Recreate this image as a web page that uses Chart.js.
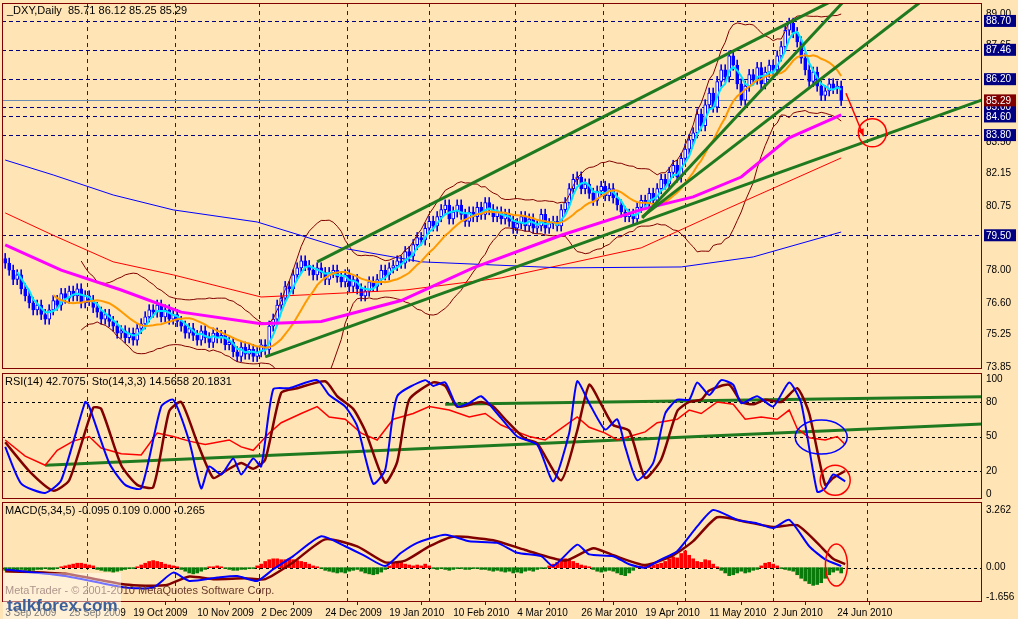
<!DOCTYPE html>
<html><head><meta charset="utf-8">
<script src="https://cdn.jsdelivr.net/npm/chart.js@4.4.1/dist/chart.umd.min.js"></script>
<style>
html,body{margin:0;padding:0;background:#FFE4B5;width:1018px;height:619px;overflow:hidden}
canvas{position:absolute;left:0}
</style></head><body>
<canvas id="cMain" style="top:0"></canvas>
<canvas id="cRsi" style="top:372px"></canvas>
<canvas id="cMacd" style="top:501px"></canvas>
<script>
// ---------- DATA ----------
const closes=[78.3,78.0,77.6,77.8,77.2,76.9,
76.6,76.3,76.5,76.1,75.9,
76.3,76.7,76.5,77.0,76.8,77.1,76.9,77.2,76.6,76.9,76.7,
76.4,76.2,75.9,76.1,75.8,75.6,75.3,75.4,
75.1,75.3,75.0,75.5,75.7,76.0,76.3,
76.2,76.5,76.0,76.3,75.9,76.1,75.8,
75.6,75.3,75.5,75.2,75.0,75.4,75.1,74.9,75.3,75.1,75.2,74.8,74.9,
74.5,74.3,74.7,74.4,74.6,74.3,74.5,74.8,74.6,
75.6,75.9,76.5,76.8,77.3,77.2,77.8,78.1,78.4,78.2,78.0,77.8,78.1,
77.9,77.6,77.9,78.0,77.7,77.5,77.8,77.3,77.6,77.2,76.9,77.1,77.5,77.3,77.6,78.0,77.8,78.1,
78.2,78.4,78.3,78.8,78.6,79.1,79.4,79.3,79.8,80.1,79.9,80.3,80.6,80.8,
80.2,80.5,80.8,80.4,80.1,80.5,80.3,80.7,80.4,80.9,80.6,80.3,80.5,80.2,80.4,80.1,79.8,80.0,80.3,79.9,80.2,79.8,79.9,80.4,79.8,80.0,80.1,79.9,
80.6,80.9,81.5,81.9,82.0,81.5,81.7,81.3,81.0,
81.4,81.6,81.2,81.5,81.1,80.8,80.5,80.3,80.4,80.2,
80.7,81.0,80.9,81.3,81.0,81.5,81.9,81.7,82.2,82.5,82.0,82.8,83.2,83.6,
83.9,84.7,84.2,85.1,85.6,85.0,86.1,86.6,86.3,
87.2,86.8,86.0,85.3,85.9,86.4,
86.2,86.7,86.0,86.5,86.8,86.6,87.2,87.6,88.3,88.6,
88.2,87.8,87.1,86.6,86.1,86.5,85.9,85.5,85.7,86.0,85.8,85.9,85.29];
const firstOpen=78.5;
const ma200Pts=[[0,82.73],[12,82.09],[27,81.23],[42,80.59],[63,80.07],[84,78.96],[104,78.36],[139,78.1],[169,78.14],[187,78.57],[209,79.64]];
const ma100Pts=[[0,80.46],[12,79.5],[27,78.36],[42,77.8],[64,76.85],[100,77.15],[124,77.67],[159,78.96],[180,80.6],[209,82.82]];
const ma50Pts=[[0,79.09],[14,78.0],[29,77.15],[44,76.2],[64,75.7],[79,75.8],[99,76.7],[117,78.1],[139,79.5],[159,80.6],[172,81.15],[184,82.0],[196,83.68],[209,84.67]];
const trendLines=[[[78,78.36],[206.25,89.52]],[[65,74.28],[244.25,85.31]],[[159.25,80.24],[209.25,89.47]],[[159.25,80.29],[228.5,89.47]]];
const levels=[88.70,87.46,86.20,85.00,84.60,83.80,79.50];
const lastPrice=85.29;
const priceTicks=[73.85,75.25,76.60,78.00,79.40,80.75,82.15,83.50,84.90,86.25,87.65,89.00];
const monthStarts=[20.5,42.5,63.5,85.5,106,127.5,149.5,170,192,215.5];
const dateTickIdx=[0,16,32,48,64,80,96,112,128,144,160,176,192,208];
const dateLabels=['3 Sep 2009','25 Sep 2009','19 Oct 2009','10 Nov 2009','2 Dec 2009','24 Dec 2009','19 Jan 2010','10 Feb 2010','4 Mar 2010','26 Mar 2010','19 Apr 2010','11 May 2010','2 Jun 2010','24 Jun 2010'];
const stochPts=[[0,41],[4,9],[10,1],[14,12],[20,80],[21,76],[26,27],[30,8],[34,5],[39,76],[42,82],[46,46],[49,5],[51,24],[54,17],[57,31],[59,17],[62,31],[64,24],[67,91],[71,92],[78,99],[81,86],[85,76],[88,59],[92,9],[95,21],[98,85],[105,99],[107,94],[110,97],[113,76],[116,79],[119,85],[123,70],[128,50],[133,43],[137,11],[141,53],[143,98],[146,79],[150,56],[153,65],[155,41],[158,12],[162,27],[165,70],[168,82],[171,82],[173,97],[176,86],[179,99],[182,95],[184,79],[188,85],[192,76],[196,97],[199,79],[203,2],[205,5],[207,17],[210,11]];
const stochSigPts=[[0,45],[6,20],[12,3],[16,12],[22,75],[24,74],[29,25],[33,8],[37,6],[41,72],[44,80],[48,45],[52,14],[55,20],[59,27],[62,22],[65,30],[69,88],[73,92],[80,98],[83,85],[87,74],[90,55],[95,10],[98,28],[101,82],[107,97],[110,94],[113,76],[119,80],[122,76],[125,65],[130,48],[133,44],[139,12],[143,55],[146,95],[149,78],[152,60],[156,55],[160,14],[164,30],[168,72],[171,80],[174,82],[176,90],[181,95],[184,80],[187,78],[190,82],[194,80],[198,92],[201,70],[205,8],[207,14],[210,20]];
const rsiPts=[[0,47],[5,33],[10,25],[13,38],[17,46],[21,50],[24,40],[29,35],[34,34],[38,53],[42,50],[46,46],[50,43],[56,47],[59,41],[62,38],[66,53],[69,62],[74,70],[78,76],[81,67],[85,65],[89,53],[93,47],[97,65],[102,70],[106,76],[111,73],[116,67],[120,70],[124,60],[128,54],[131,50],[135,47],[139,57],[143,67],[146,58],[150,53],[153,47],[156,50],[160,54],[163,62],[168,65],[171,73],[174,70],[178,80],[182,78],[185,65],[189,67],[193,65],[196,73],[198,57],[201,49],[205,47],[208,50],[210,43]];
const rsiLines=[[[10,25],[245,61]],[[110,78],[245,84.5]]];
const rsiLevels=[80,50,20];
const macdPts=[[0,-0.1],[15,-0.47],[30,-1.12],[37,-1.12],[42,-0.28],[46,-0.75],[53,-0.56],[58,-0.47],[63,-0.75],[67,-0.09],[72,0.65],[79,1.77],[85,1.21],[90,0.65],[95,0.09],[99,0.84],[103,1.4],[110,1.86],[116,1.49],[123,1.4],[128,0.84],[134,0.65],[137,0.09],[143,1.3],[146,0.75],[152,0.65],[156,0.19],[160,0],[164,0.47],[168,0.93],[173,2.33],[177,3.26],[183,2.7],[188,2.5],[192,2.24],[196,2.7],[201,1.21],[205,0.47],[209,0.09]];
const macdSigPts=[[0,-0.2],[15,-0.35],[30,-0.95],[40,-1.0],[46,-0.5],[52,-0.65],[60,-0.6],[65,-0.65],[72,0.3],[80,1.6],[88,1.2],[95,0.3],[100,0.4],[106,1.2],[112,1.75],[122,1.55],[130,1.0],[140,0.4],[147,1.1],[152,0.7],[160,0.15],[167,0.7],[172,1.5],[178,2.85],[185,2.6],[192,2.3],[198,2.4],[203,1.4],[207,0.5],[210,0.2]];
const osma=[-0.15,-0.2,-0.2,-0.15,-0.1,-0.15,-0.2,-0.15,-0.1,-0.1,-0.05,-0.1,-0.1,-0.05,
0.05,0.1,0.15,0.2,0.25,0.25,0.2,0.15,0.1,
-0.1,-0.15,-0.2,-0.2,-0.25,-0.2,-0.15,-0.1,-0.05,-0.05,0.05,
0.15,0.25,0.35,0.4,0.35,0.3,0.2,0.15,0.1,0.05,
-0.1,-0.2,-0.3,-0.35,-0.3,-0.2,-0.1,
0.05,0.05,0.1,0.05,-0.05,
-0.1,-0.15,-0.15,-0.1,-0.1,-0.05,-0.05,
0.1,0.2,0.35,0.45,0.5,0.5,0.45,0.45,0.5,0.45,0.4,0.35,0.3,0.2,0.1,0.05,
-0.05,-0.15,-0.2,-0.25,-0.3,-0.25,-0.3,-0.2,-0.15,-0.1,-0.2,-0.3,-0.35,-0.4,-0.35,-0.25,-0.1,
0.1,0.25,0.35,0.3,0.2,0.15,0.1,0.15,0.1,0.2,0.1,
-0.05,-0.1,-0.05,-0.1,-0.15,-0.1,-0.05,-0.05,-0.1,-0.1,-0.05,-0.05,-0.1,
-0.1,-0.15,-0.2,-0.15,-0.2,-0.25,-0.2,-0.3,-0.25,-0.3,-0.2,-0.15,-0.2,-0.1,-0.05,-0.05,
0.1,0.2,0.3,0.45,0.5,0.45,0.35,0.25,0.15,0.1,0.05,
-0.1,-0.2,-0.25,-0.2,-0.15,-0.2,-0.3,-0.4,-0.45,-0.3,-0.15,
0.05,0.1,0.15,0.1,0.15,0.2,0.25,
0.35,0.5,0.6,0.55,0.8,0.95,0.7,0.5,0.35,0.3,0.45,0.4,0.2,0.05,
-0.15,-0.3,-0.45,-0.4,-0.3,-0.2,-0.3,-0.25,-0.15,-0.1,
0.1,0.25,0.3,0.2,0.1,-0.05,-0.1,
-0.15,-0.2,-0.4,-0.6,-0.75,-0.9,-1.0,-0.95,-0.85,-0.6,-0.4,-0.25,-0.15,-0.3];
const macdTicks=[3.262,0,-1.656];
const rsiTicks=[100,80,50,20,0];

// ---------- HELPERS ----------
const XMIN=-0.8, XMAX=244.2;
const FONT='"Liberation Sans", Arial, sans-serif';
const pts=a=>a.map(p=>({x:p[0],y:p[1]}));
const opens=closes.map((c,i)=>i?closes[i-1]:firstOpen);
function sma(n){return closes.map((c,i)=>{if(i<n-1)return null;let s=0;for(let k=i-n+1;k<=i;k++)s+=closes[k];return {x:i,y:s/n};}).filter(Boolean);}
function boll(n,m,sign){return closes.map((c,i)=>{if(i<n-1)return null;let s=0;for(let k=i-n+1;k<=i;k++)s+=closes[k];const mu=s/n;let v=0;for(let k=i-n+1;k<=i;k++)v+=(closes[k]-mu)**2;return {x:i,y:mu+sign*m*Math.sqrt(v/n)};}).filter(Boolean);}
const lineDs=(data,color,w,extra)=>Object.assign({type:'line',data,borderColor:color,borderWidth:w,pointRadius:0,tension:0,fill:false},extra||{});

function xScale(show){
  const s={type:'linear',min:XMIN,max:XMAX,offset:false,display:show,grid:{display:false,drawTicks:false},border:{display:false}};
  if(show){
    s.afterBuildTicks=sc=>{sc.ticks=dateTickIdx.map(v=>({value:v}));};
    s.afterFit=sc=>{sc.height=17;sc.paddingLeft=0;sc.paddingRight=0;};
    s.ticks={autoSkip:false,maxRotation:0,align:'start',padding:2,color:'#000',font:{family:FONT,size:10},callback:v=>dateLabels[dateTickIdx.indexOf(v)]};
    s.grid={display:true,drawOnChartArea:false,drawTicks:true,tickLength:3,color:'#800000'};
  }
  return s;
}
function yScale(min,max,ticks,fmt){
  return {position:'right',min,max,grid:{display:false,drawTicks:false},border:{display:false},
    afterBuildTicks:sc=>{sc.ticks=ticks.map(v=>({value:v}));},
    afterFit:sc=>{sc.width=36;sc.paddingTop=0;sc.paddingBottom=0;},
    ticks:{color:'#000',padding:4,font:{family:FONT,size:10},callback:fmt}};
}
function decor(cfg){
  return {id:'decor',
    beforeDraw(ch){const c=ch.ctx;c.save();c.fillStyle='#FFE4B5';c.fillRect(0,0,ch.width,ch.height);c.restore();},
    beforeDatasetsDraw(ch){
      const c=ch.ctx,a=ch.chartArea,x=ch.scales.x,y=ch.scales.y;c.save();
      c.beginPath();c.rect(a.left,a.top,a.right-a.left,a.bottom-a.top);c.clip();
      c.lineWidth=1;c.setLineDash([4,4]);c.strokeStyle='#800000';
      monthStarts.forEach(m=>{const px=Math.round(x.getPixelForValue(m))+0.5;c.beginPath();c.moveTo(px,a.top);c.lineTo(px,a.bottom);c.stroke();});
      (cfg.hl||[]).forEach(h=>{c.strokeStyle=h.color;c.setLineDash(h.dash);const py=Math.round(y.getPixelForValue(h.v))+0.5;c.beginPath();c.moveTo(a.left,py);c.lineTo(a.right,py);c.stroke();});
      c.restore();
    },
    afterDraw(ch){
      const c=ch.ctx,a=ch.chartArea,x=ch.scales.x,y=ch.scales.y;c.save();
      c.save();c.beginPath();c.rect(a.left,a.top,a.right-a.left,a.bottom-a.top);c.clip();
      (cfg.ann||[]).forEach(n=>{
        c.setLineDash([]);c.lineWidth=1.5;c.strokeStyle=n.color;
        const cx=x.getPixelForValue(n.x),cy=y.getPixelForValue(n.y);
        if(n.kind==='ell'){c.beginPath();c.ellipse(cx,cy,n.rx,n.ry,0,0,Math.PI*2);c.stroke();}
        if(n.kind==='arrow'){const tx=x.getPixelForValue(n.x2),ty=y.getPixelForValue(n.y2);c.beginPath();c.moveTo(cx,cy);c.lineTo(tx,ty);c.stroke();
          const ang=Math.atan2(ty-cy,tx-cx);c.fillStyle=n.color;c.beginPath();c.moveTo(tx,ty);c.lineTo(tx-8*Math.cos(ang-0.4),ty-8*Math.sin(ang-0.4));c.lineTo(tx-8*Math.cos(ang+0.4),ty-8*Math.sin(ang+0.4));c.closePath();c.fill();}
      });
      c.restore();
      c.setLineDash([]);c.strokeStyle='#800000';c.lineWidth=1;
      c.strokeRect(Math.round(a.left)+0.5,Math.round(a.top)+0.5,Math.round(a.right-a.left)-1,Math.round(a.bottom-a.top)-1);
      c.font='10px '+FONT;c.textBaseline='middle';
      (cfg.boxes||[]).forEach(b=>{const py=y.getPixelForValue(b.v);c.fillStyle=b.bg;c.fillRect(a.right+2,py-6,32,12);c.fillStyle='#fff';c.fillText(b.v.toFixed(2),a.right+4,py+0.5);});
      c.textBaseline='alphabetic';
      (cfg.texts||[]).forEach(t=>{c.font=t.font||('11px '+FONT);c.fillStyle=t.color||'#000';c.fillText(t.s,t.x,t.y);});
      if(cfg.after)cfg.after(c);
      c.restore();
    }};
}
function mk(id,h,pad,datasets,xs,ys,plug){
  const el=document.getElementById(id);el.width=1018;el.height=h;el.style.width='1018px';el.style.height=h+'px';
  return new Chart(el,{type:'bar',data:{datasets},options:{responsive:false,animation:false,devicePixelRatio:1,
    layout:{padding:pad},plugins:{legend:{display:false},tooltip:{enabled:false}},
    scales:{x:xs,y:ys}},plugins:[plug]});
}

// ---------- MAIN ----------
const up=closes.map((c,i)=>c>=opens[i]);
const mainDs=[
  ...trendLines.map(t=>lineDs(pts(t),'#1F7A1F',3,{order:1})),
  lineDs(pts(ma200Pts),'#0000FF',1,{order:3}),
  lineDs(pts(ma100Pts),'#FF0000',1,{order:3}),
  lineDs(boll(20,2.4,1),'#800000',1,{order:3}),
  lineDs(boll(20,2.4,-1),'#800000',1,{order:3}),
  lineDs(pts(ma50Pts),'#FF00FF',3,{order:2}),
  lineDs(sma(13),'#FF9900',2,{order:2}),
  lineDs(sma(4),'#00E5FF',2,{order:2}),
  {type:'bar',grouped:false,order:5,data:closes.map((c,i)=>({x:i,y:[Math.min(c,opens[i])-0.22,Math.max(c,opens[i])+0.22]})),backgroundColor:'#0000FF',barThickness:1,borderWidth:0},
  {type:'bar',grouped:false,order:4,data:closes.map((c,i)=>({x:i,y:[opens[i],c===opens[i]?c+0.03:c]})),backgroundColor:up.map(u=>u?'#FFFFFF':'#0000FF'),borderColor:'#0000FF',borderWidth:1,borderSkipped:false,barThickness:3}
];
mk('cMain',372,{top:3,bottom:3,left:2,right:0},mainDs,xScale(false),yScale(73.76,89.47,priceTicks,v=>v.toFixed(2)),
  decor({hl:[...levels.map(v=>({v,color:'#000080',dash:[4,3]})),{v:lastPrice,color:'#6A8CB0',dash:[]}],
    boxes:[...levels.map(v=>({v,bg:'#000080'})),{v:lastPrice,bg:'#800000'}],
    texts:[{s:'_DXY,Daily  85.71 86.12 85.25 85.29',x:7,y:14}],
    ann:[{kind:'arrow',color:'#FF0000',x:210.2,y:85.6,x2:214.6,y2:83.75},{kind:'ell',color:'#FF0000',x:216.8,y:83.9,rx:14,ry:14}]}));

// ---------- RSI / STOCH ----------
const rsiDs=[
  ...rsiLines.map(t=>lineDs(pts(t),'#1F7A1F',3,{order:3})),
  lineDs(pts(rsiPts),'#FF0000',1.5,{order:2}),
  lineDs(pts(stochSigPts),'#800000',2.5,{order:1,tension:0.2}),
  lineDs(pts(stochPts),'#0000FF',2,{order:0,tension:0.2})
];
mk('cRsi',129,{top:1,bottom:2,left:2,right:0},rsiDs,xScale(false),yScale(-4.3,105.2,rsiTicks,v=>String(v)),
  decor({hl:rsiLevels.map(v=>({v,color:'#000',dash:[3,3]})),
    texts:[{s:'RSI(14) 42.7075  Sto(14,3,3) 14.5658 20.1831',x:5,y:13}],
    ann:[{kind:'ell',color:'#0000FF',x:204,y:49.5,rx:26,ry:17},{kind:'ell',color:'#FF0000',x:207.5,y:12,rx:15,ry:15}]}));

// ---------- MACD ----------
const macdDs=[
  {type:'bar',grouped:false,order:3,data:osma.map((v,i)=>({x:i,y:v})),backgroundColor:osma.map(v=>v>=0?'#FF0000':'#0A7A0A'),barThickness:3},
  lineDs(pts(macdSigPts),'#800000',2.5,{order:1,tension:0.2}),
  lineDs(pts(macdPts),'#0000FF',2,{order:0,tension:0.2})
];
mk('cMacd',118,{top:1,bottom:0,left:2,right:0},macdDs,xScale(true),yScale(-1.94,3.71,macdTicks,v=>v===0?'0.00':v.toFixed(3)),
  decor({hl:[{v:0,color:'#000',dash:[3,3]}],
    texts:[{s:'MACD(5,34,5) -0.095 0.109 0.000 -0.265',x:5,y:13},{s:'MetaTrader - © 2001-2010 MetaQuotes Software Corp.',x:5,y:93,color:'#6b3a2a'}],
    ann:[{kind:'ell',color:'#FF0000',x:207.8,y:0.15,rx:11,ry:21}],
    after:c=>{c.fillStyle='rgba(255,255,255,0.45)';c.fillRect(3,72,118,46);c.font='bold 17px '+FONT;c.fillStyle='#3B5F9A';c.fillText('talkforex.com',7,110);}}));
</script></body></html>
